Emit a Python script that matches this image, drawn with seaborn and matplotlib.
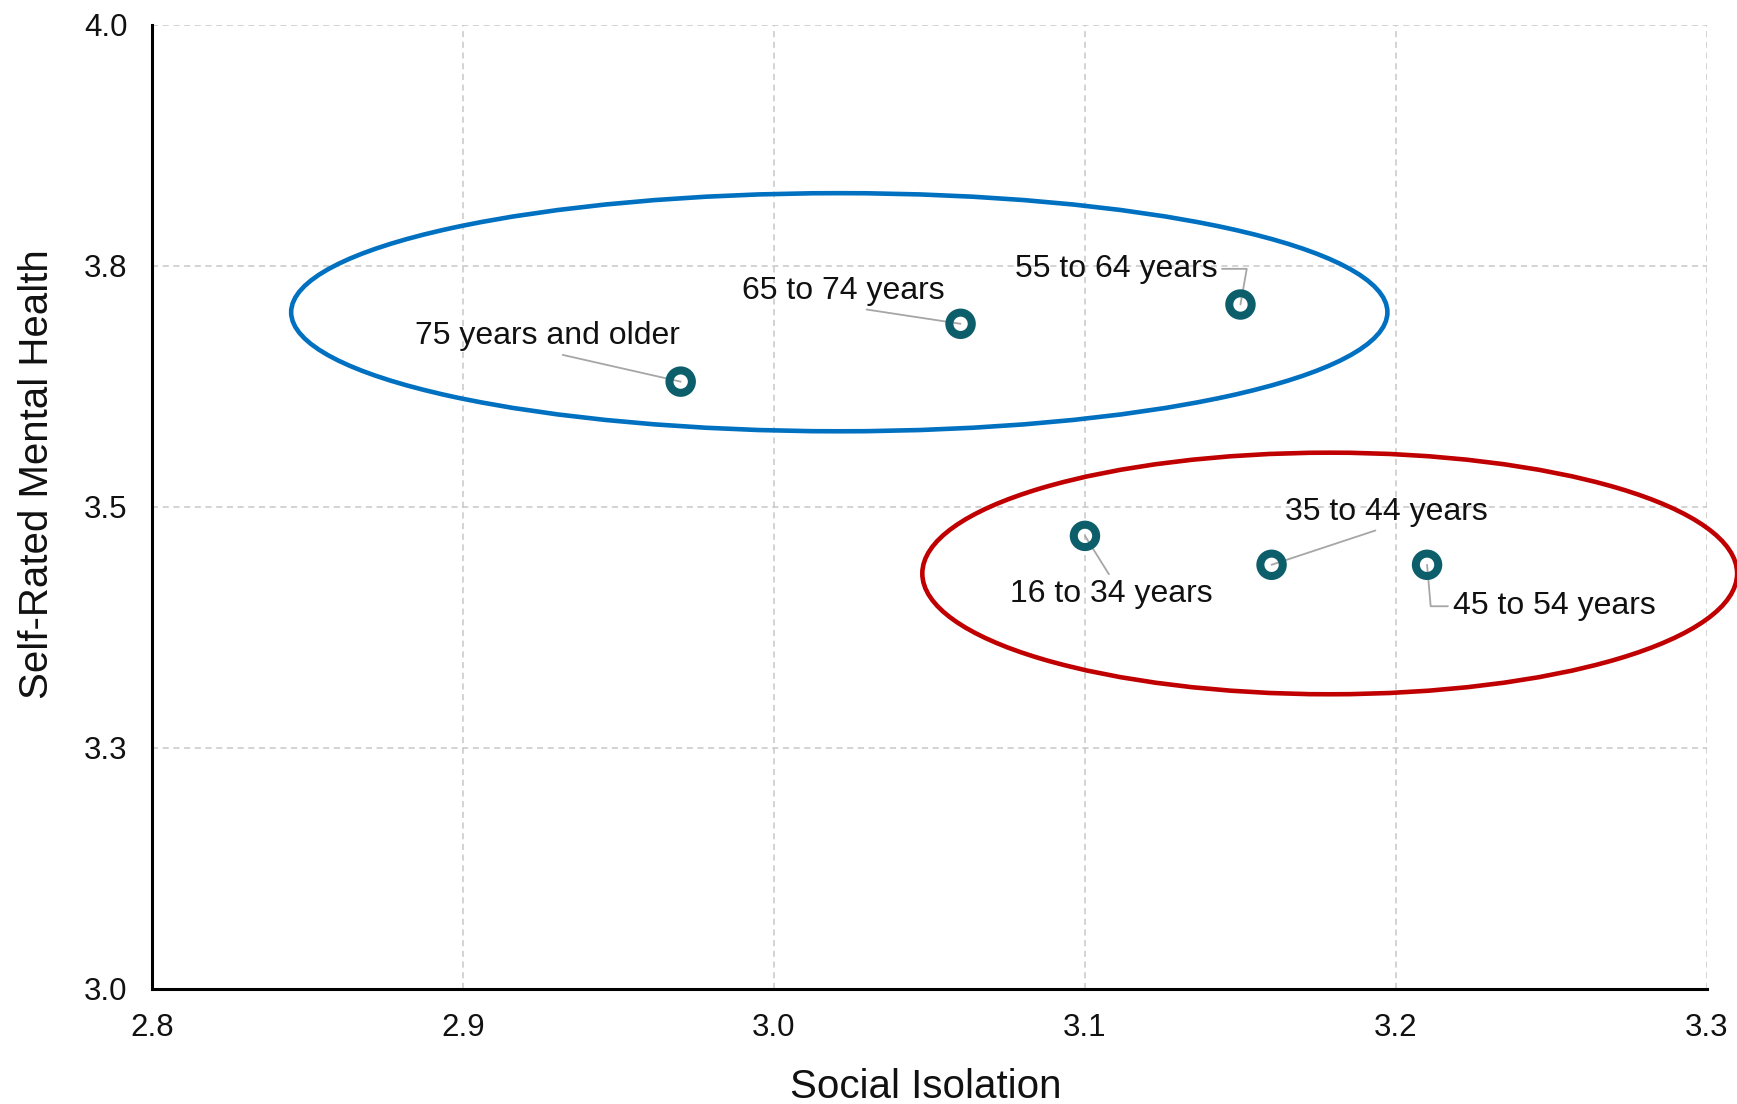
import matplotlib
matplotlib.use("Agg")
import matplotlib.pyplot as plt
from matplotlib.patches import Ellipse
import numpy as np
import pandas as pd
import seaborn as sns

# data
groups = ["16 to 34 years", "35 to 44 years", "45 to 54 years",
          "55 to 64 years", "65 to 74 years", "75 years and older"]
isolation = [3.10, 3.16, 3.21, 3.15, 3.06, 2.97]
mental_health = [3.47, 3.44, 3.44, 3.71, 3.69, 3.63]

yticks = [3.0, 3.25, 3.5, 3.75, 4.0]
ytick_labels = ["3.0", "3.3", "3.5", "3.8", "4.0"]
xticks = [2.8, 2.9, 3.0, 3.1, 3.2, 3.3]

df = pd.DataFrame({"Social Isolation": isolation,
                   "Self-Rated Mental Health": mental_health,
                   "Group": groups})

sns.set_style("white")
plt.rcParams["font.family"] = ["Liberation Sans", "DejaVu Sans"]

fig = plt.figure(figsize=(17.37, 11.04), dpi=100)
ax = fig.add_axes([0.0875, 0.1042, 0.8952, 0.8732])

# label positions (data coords) and leader styles
label_pos = {
    "75 years and older": (2.927, 3.677, (0.5, 0.0), "arc3"),
    "65 to 74 years": (3.0224, 3.724, (0.5, 0.0), "arc3"),
    "55 to 64 years": (3.110, 3.747, (1.0, 0.5), "angle,angleA=0,angleB=80,rad=0"),
    "35 to 44 years": (3.197, 3.495, (0.5, 0.0), "arc3"),
    "16 to 34 years": (3.1086, 3.410, (0.5, 1.0), "arc3"),
    "45 to 54 years": (3.2508, 3.397, (0.0, 0.5), "angle,angleA=180,angleB=95,rad=0"),
}
for g, x, y in zip(groups, isolation, mental_health):
    tx, ty, rel, cs = label_pos[g]
    ax.annotate(g, xy=(x, y), xytext=(tx, ty), ha="center", va="center",
                fontsize=23, color="#111111", zorder=4,
                arrowprops=dict(arrowstyle="-", color="#A6A6A6", lw=1.3,
                                relpos=rel, shrinkA=1, shrinkB=0,
                                connectionstyle=cs))

sns.scatterplot(data=df, x="Social Isolation", y="Self-Rated Mental Health",
                ax=ax, s=260, facecolor="none", edgecolor="#0C5E6A",
                linewidth=5.8, zorder=5)

# group ellipses
ax.add_patch(Ellipse((3.021, 3.702), 0.3525, 0.247, fill=False,
                     edgecolor="#0070C0", lw=3.3, zorder=3))
ax.add_patch(Ellipse((3.1787, 3.431), 0.262, 0.2506, fill=False,
                     edgecolor="#C00000", lw=3.3, zorder=3, clip_on=False))

ax.set_xlim(2.8, 3.3)
ax.set_ylim(3.0, 4.0)
ax.set_xticks(xticks)
ax.set_xticklabels([f"{v:.1f}" for v in xticks])
ax.set_yticks(yticks)
ax.set_yticklabels(ytick_labels)

ax.grid(True, color="#C8C8C8", linestyle=(0, (4, 3)), linewidth=1.1)
ax.set_axisbelow(True)
for side in ["top", "right"]:
    ax.spines[side].set_visible(False)
for side in ["left", "bottom"]:
    ax.spines[side].set_color("black")
    ax.spines[side].set_linewidth(2.2)

ax.tick_params(axis="both", direction="out", length=6.5, width=2.2,
               color="black", labelsize=22.5, labelcolor="#111111", pad=11)

ax.set_xlabel("Social Isolation", fontsize=29, color="#111111")
ax.set_ylabel("Self-Rated Mental Health", fontsize=29, color="#111111")
ax.xaxis.set_label_coords(0.4975, -0.082)
ax.yaxis.set_label_coords(-0.062, 0.534)

fig.savefig("out.png", dpi=100)
